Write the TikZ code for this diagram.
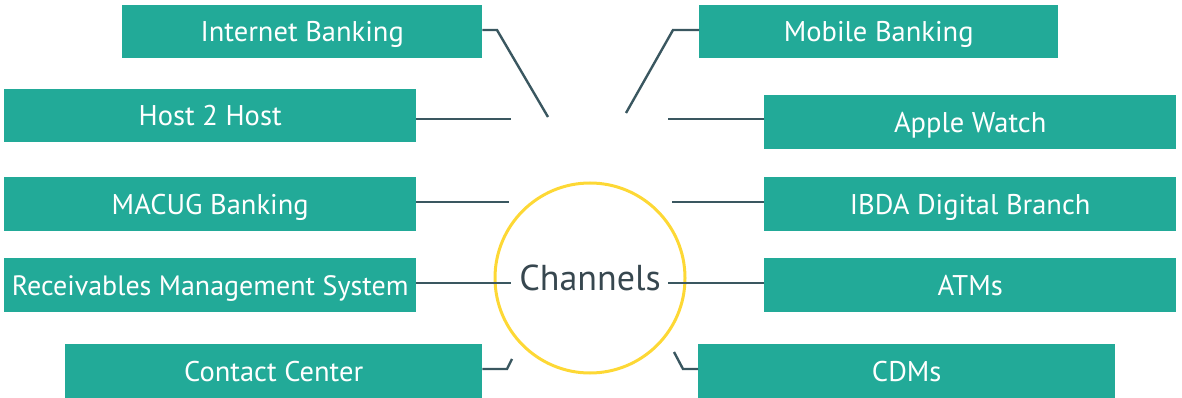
\documentclass[tikz,border=0pt]{standalone}
\usepackage{fontspec}
\setmainfont{PT Sans}
\definecolor{teal}{HTML}{22AA98}
\definecolor{slate}{HTML}{3A5760}
\definecolor{sun}{HTML}{FDD835}
\definecolor{ink}{HTML}{37474F}
\begin{document}
\begin{tikzpicture}[x=1pt,y=-1pt,
  box/.style={fill=teal,text=white,inner sep=0pt,anchor=north west,text height=20pt,text depth=0pt,font=\fontsize{28.5}{32}\selectfont},
  link/.style={draw=slate,line width=2.4pt}]
\useasboundingbox (0,0) rectangle (1182,398);
\node[box,minimum width=360,minimum height=53] (ib) at (122,5) {Internet Banking};
\node[box,minimum width=359,minimum height=53] (mb) at (699,5) {Mobile Banking};
\node[box,minimum width=412,minimum height=53] (hh) at (4,89) {Host 2 Host};
\node[box,minimum width=412,minimum height=54] (aw) at (764,95) {Apple Watch};
\node[box,minimum width=412,minimum height=54] (mc) at (4,177) {MACUG Banking};
\node[box,minimum width=412,minimum height=54] (ibda) at (764,177) {IBDA Digital Branch};
\node[box,minimum width=412,minimum height=54,font=\fontsize{28}{32}\selectfont] (rms) at (4,258) {Receivables Management System};
\node[box,minimum width=412,minimum height=54] (atm) at (764,258) {ATMs};
\node[box,minimum width=417,minimum height=54] (cc) at (65,344) {Contact Center};
\node[box,minimum width=417,minimum height=54] (cdm) at (698,344) {CDMs};
\node[circle,draw=sun,line width=3pt,minimum size=190,inner sep=0pt,text=ink,font=\fontsize{36}{40}\selectfont] (ch) at (590,278) {Channels};
\coordinate (e1) at (548,117);
\coordinate (e2) at (626,113);
\coordinate (e3) at (511,119);
\coordinate (e4) at (668,119);
\coordinate (e5) at (509,202);
\coordinate (e6) at (672,202);
\coordinate (e7) at (511,283);
\coordinate (e8) at (668,283);
\coordinate (e9) at (512,359);
\coordinate (e10) at (674,352);
\draw[link] (ib.east |- 0,30) -- (497,30) -- (e1);
\draw[link] (mb.west |- 0,30) -- (673,30) -- (e2);
\draw[link] (hh.east |- e3) -- (e3);
\draw[link] (aw.west |- e4) -- (e4);
\draw[link] (mc.east |- e5) -- (e5);
\draw[link] (ibda.west |- e6) -- (e6);
\draw[link] (rms.east |- e7) -- (e7);
\draw[link] (atm.west |- e8) -- (e8);
\draw[link] (cc.east |- 0,369) -- (507,369) -- (e9);
\draw[link] (cdm.west |- 0,369) -- (683,369) -- (e10);
\end{tikzpicture}
\end{document}
